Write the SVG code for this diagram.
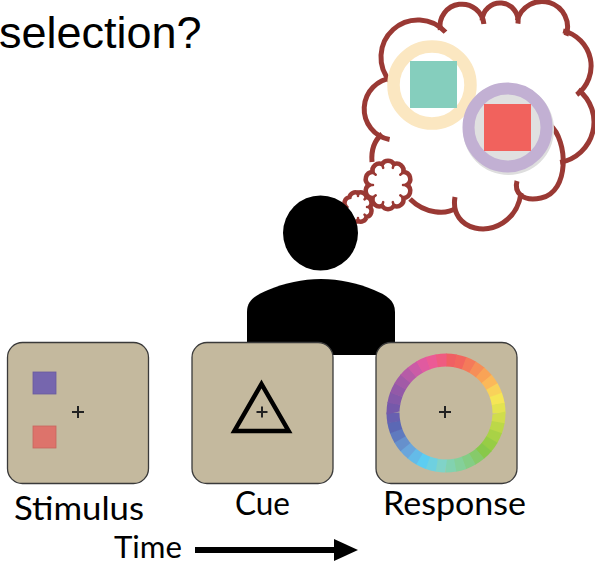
<svg xmlns="http://www.w3.org/2000/svg" width="595" height="565" viewBox="0 0 595 565">
  <style>
    .cl { fill: none; stroke: #9a3934; stroke-width: 5; }
    .puff { fill: #ffffff; stroke: #9a3934; stroke-width: 4.5; }
    .tick { fill: none; stroke: #9a3934; stroke-width: 2.5; stroke-linecap: round; }
    .box { fill: #c4b99e; stroke: #3a3a3a; stroke-width: 1.3; }
    .plus { stroke: #222222; stroke-width: 2; fill: none; }
    .lbl { font-family: Lato, "Open Sans", "Liberation Sans", sans-serif; font-size: 33px; fill: #000000; }
    .seg { fill: none; stroke-width: 13; stroke-dasharray: 10.6 349.4; }
  </style>
  <defs>
    <marker id="head" markerUnits="userSpaceOnUse" markerWidth="24" markerHeight="22" refX="0" refY="11" orient="auto">
      <path d="M0,0 L24,11 L0,22 Z" fill="#000000"/>
    </marker>
  </defs>

  <rect width="595" height="565" fill="#ffffff"/>

  <!-- heading line -->
  <g id="title">
    <text x="-1" y="48" font-family="'Liberation Sans', Arial, sans-serif" font-size="45" fill="#000000">selection?</text>
  </g>

  <!-- thought bubble: big cloud made of overlapping arcs -->
  <g id="thought-cloud">
    <path class="cl" d="M389.6,139.5 A31 31 0 0 1 392.8,78.1"/>
    <path class="cl" d="M390.5,81.8 A37 37 0 1 1 445.5,32.2"/>
    <path class="cl" d="M440.3,29.8 A22 22 0 1 1 483.9,24.1"/>
    <path class="cl" d="M482.1,20.4 A18 18 0 1 1 517.9,23.6"/>
    <path class="cl" d="M517.4,20.4 A25.5 25.5 0 1 1 566,35.7"/>
    <path class="cl" d="M563.1,30.9 A36 36 0 0 1 576.7,94.8"/>
    <path class="cl" d="M578.2,89.7 A41 41 0 0 1 560.1,162.4"/>
    <path class="cl" d="M550,125 C568,140 570,192 541,198 C522,202 514,192 517,181"/>
    <path class="cl" d="M521,193 C517,222 492,232 475,228 C462,225 452,214 455,197"/>
    <path class="cl" d="M456,208 C446,215 425,214 410,199"/>
    <path class="cl" d="M382,134 C375,140 371,150 372,162"/>

    <!-- smaller puffs leading to the head -->
    <path class="puff" d="M407,185 A7 7 0 0 1 403.4,197.9 A7 7 0 0 1 393.9,205.9 A7 7 0 0 1 382.1,205.9 A7 7 0 0 1 372.6,197.9 A7 7 0 0 1 369,185 A7 7 0 0 1 372.6,172.1 A7 7 0 0 1 382.1,164.1 A7 7 0 0 1 393.9,164.1 A7 7 0 0 1 403.4,172.1 A7 7 0 0 1 407,185 Z"/>
    <path class="tick" d="M407,185 L403,185 M403.4,197.9 L400.3,195.3 M393.9,205.9 L392.8,202.1 M382.1,205.9 L383.2,202.1 M372.6,197.9 L375.7,195.3 M369,185 L373,185 M372.6,172.1 L375.7,174.7 M382.1,164.1 L383.2,167.9 M393.9,164.1 L392.8,167.9 M403.4,172.1 L400.3,174.7"/>
    <path class="puff" stroke-width="4" d="M370,207 A6 6 0 0 1 366.5,216.9 A6 6 0 0 1 358,221 A6 6 0 0 1 349.5,216.9 A6 6 0 0 1 346,207 A6 6 0 0 1 349.5,197.1 A6 6 0 0 1 358,193 A6 6 0 0 1 366.5,197.1 A6 6 0 0 1 370,207 Z"/>
    <path class="tick" d="M370,207 L367,207 M366.5,216.9 L364.5,214.6 M358,221 L358,218 M366.5,197.1 L364.5,199.4 M358,193 L358,196"/>

    <!-- remembered items -->
    <circle cx="432" cy="85" r="38.5" fill="#ffffff" stroke="#fbe7c1" stroke-width="12.5"/>
    <rect x="410" y="61" width="47" height="47" fill="#85cebd"/>
    <circle cx="508.5" cy="129.5" r="45.5" fill="#dedede"/>
    <circle cx="507.5" cy="127.5" r="39" fill="#e0e0e0" stroke="#c2b0d3" stroke-width="12"/>
    <rect x="484" y="104" width="47" height="47" fill="#f1625d"/>
  </g>

  <!-- observer silhouette -->
  <g id="person">
    <path d="M247,355 V312 C247,300 256,295 268,290 C285,283 302,279 321,279 C340,279 357,283 374,290 C386,295 395,300 395,312 V355 Z" fill="#000000"/>
    <circle cx="320.5" cy="233" r="37.5" fill="#000000"/>
  </g>

  <!-- stimulus display -->
  <g id="stimulus">
    <rect class="box" x="7.5" y="342.5" width="141" height="141" rx="15"/>
    <rect x="33" y="372" width="23" height="22" fill="#7666ae" stroke="#6a5a9e" stroke-width="0.8"/>
    <rect x="33" y="426" width="23" height="22" fill="#dd736b" stroke="#c9655e" stroke-width="0.8"/>
    <path class="plus" d="M72,412 H84 M78,406 V418"/>
    <text class="lbl" x="14" y="520" textLength="130" lengthAdjust="spacingAndGlyphs">Stimulus</text>
  </g>

  <!-- cue display -->
  <g id="cue">
    <rect class="box" x="192" y="342.5" width="141" height="141" rx="15"/>
    <path d="M261.5,384 L288.6,431 L234.4,431 Z" fill="none" stroke="#000000" stroke-width="4.5" stroke-linejoin="miter"/>
    <path class="plus" d="M256.5,412 H267.5 M262,406.5 V417.5"/>
    <text class="lbl" x="235" y="515" textLength="55" lengthAdjust="spacingAndGlyphs">Cue</text>
  </g>

  <!-- response display with colour wheel -->
  <g id="response">
    <rect class="box" x="376" y="342.5" width="141" height="141" rx="15"/>
    <g transform="translate(446 413) rotate(-90)">
      <circle class="seg" r="53" pathLength="360" stroke="#f05f63" stroke-dashoffset="0"/>
      <circle class="seg" r="53" pathLength="360" stroke="#f2665e" stroke-dashoffset="-10"/>
      <circle class="seg" r="53" pathLength="360" stroke="#f47a5a" stroke-dashoffset="-20"/>
      <circle class="seg" r="53" pathLength="360" stroke="#f68e58" stroke-dashoffset="-30"/>
      <circle class="seg" r="53" pathLength="360" stroke="#f9a356" stroke-dashoffset="-40"/>
      <circle class="seg" r="53" pathLength="360" stroke="#fbb85a" stroke-dashoffset="-50"/>
      <circle class="seg" r="53" pathLength="360" stroke="#f9d25a" stroke-dashoffset="-60"/>
      <circle class="seg" r="53" pathLength="360" stroke="#f5e656" stroke-dashoffset="-70"/>
      <circle class="seg" r="53" pathLength="360" stroke="#e3e350" stroke-dashoffset="-80"/>
      <circle class="seg" r="53" pathLength="360" stroke="#d0dd4c" stroke-dashoffset="-90"/>
      <circle class="seg" r="53" pathLength="360" stroke="#bcd848" stroke-dashoffset="-100"/>
      <circle class="seg" r="53" pathLength="360" stroke="#a9d246" stroke-dashoffset="-110"/>
      <circle class="seg" r="53" pathLength="360" stroke="#97cd45" stroke-dashoffset="-120"/>
      <circle class="seg" r="53" pathLength="360" stroke="#88c84a" stroke-dashoffset="-130"/>
      <circle class="seg" r="53" pathLength="360" stroke="#86ca6a" stroke-dashoffset="-140"/>
      <circle class="seg" r="53" pathLength="360" stroke="#84cd85" stroke-dashoffset="-150"/>
      <circle class="seg" r="53" pathLength="360" stroke="#84d09a" stroke-dashoffset="-160"/>
      <circle class="seg" r="53" pathLength="360" stroke="#82d2b0" stroke-dashoffset="-170"/>
      <circle class="seg" r="53" pathLength="360" stroke="#80d3c8" stroke-dashoffset="-180"/>
      <circle class="seg" r="53" pathLength="360" stroke="#6ed0e0" stroke-dashoffset="-190"/>
      <circle class="seg" r="53" pathLength="360" stroke="#5ccdf2" stroke-dashoffset="-200"/>
      <circle class="seg" r="53" pathLength="360" stroke="#64bbe8" stroke-dashoffset="-210"/>
      <circle class="seg" r="53" pathLength="360" stroke="#6aa6dc" stroke-dashoffset="-220"/>
      <circle class="seg" r="53" pathLength="360" stroke="#6690cc" stroke-dashoffset="-230"/>
      <circle class="seg" r="53" pathLength="360" stroke="#5f7abf" stroke-dashoffset="-240"/>
      <circle class="seg" r="53" pathLength="360" stroke="#5b68b5" stroke-dashoffset="-250"/>
      <circle class="seg" r="53" pathLength="360" stroke="#6860b0" stroke-dashoffset="-260"/>
      <circle class="seg" r="53" pathLength="360" stroke="#7559aa" stroke-dashoffset="-270"/>
      <circle class="seg" r="53" pathLength="360" stroke="#8459a9" stroke-dashoffset="-280"/>
      <circle class="seg" r="53" pathLength="360" stroke="#9359a8" stroke-dashoffset="-290"/>
      <circle class="seg" r="53" pathLength="360" stroke="#a25aa7" stroke-dashoffset="-300"/>
      <circle class="seg" r="53" pathLength="360" stroke="#b65ba7" stroke-dashoffset="-310"/>
      <circle class="seg" r="53" pathLength="360" stroke="#cb5ba6" stroke-dashoffset="-320"/>
      <circle class="seg" r="53" pathLength="360" stroke="#e05aa0" stroke-dashoffset="-330"/>
      <circle class="seg" r="53" pathLength="360" stroke="#ec5a95" stroke-dashoffset="-340"/>
      <circle class="seg" r="53" pathLength="360" stroke="#ef5b80" stroke-dashoffset="-350"/>
    </g>
    <path class="plus" d="M439,412 H451 M445,406 V418"/>
    <text class="lbl" x="383" y="515" textLength="143" lengthAdjust="spacingAndGlyphs">Response</text>
  </g>

  <!-- time axis -->
  <g id="time-axis">
    <text class="lbl" x="114" y="558" font-size="31" style="font-size:31px" textLength="68" lengthAdjust="spacingAndGlyphs">Time</text>
    <line x1="195" y1="550" x2="334" y2="550" stroke="#000000" stroke-width="6" marker-end="url(#head)"/>
  </g>
</svg>
